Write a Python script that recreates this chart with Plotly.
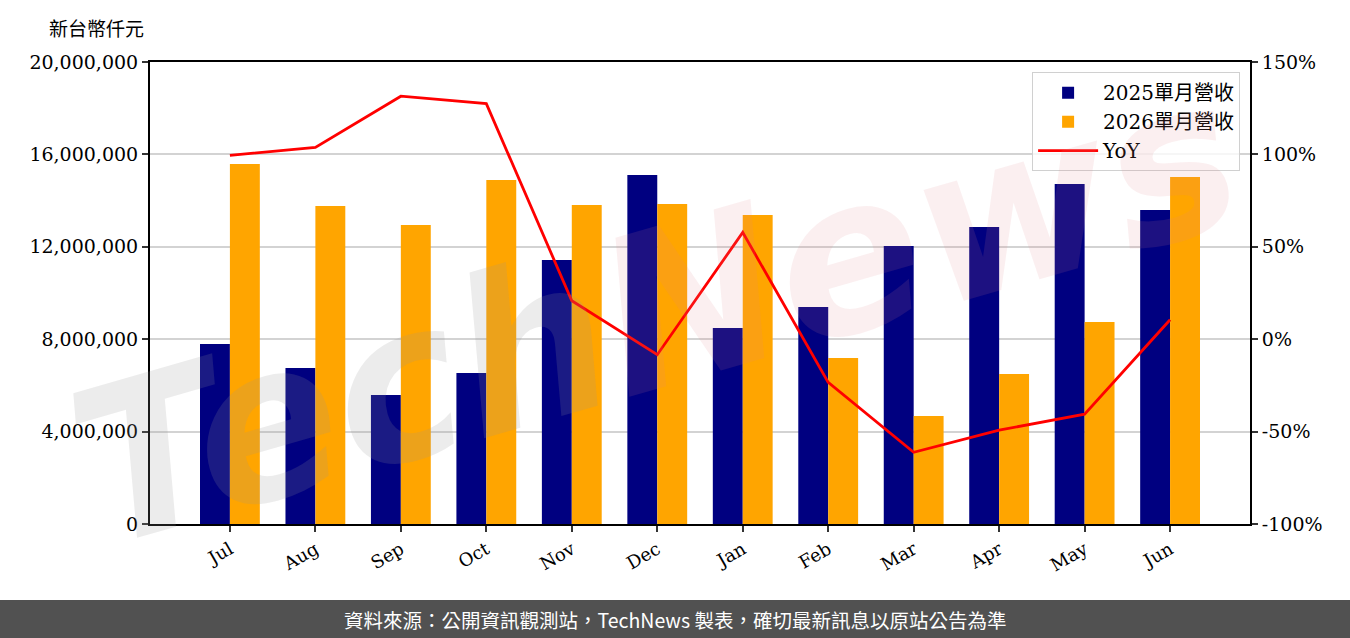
import plotly.graph_objects as go

months = ["Jul", "Aug", "Sep", "Oct", "Nov", "Dec", "Jan", "Feb", "Mar", "Apr", "May", "Jun"]
rev_2025 = [7790000, 6750000, 5580000, 6540000, 11430000, 15110000, 8480000, 9390000, 12030000, 12860000, 14720000, 13590000]
rev_2026 = [15580000, 13770000, 12940000, 14890000, 13810000, 13850000, 13380000, 7190000, 4680000, 6490000, 8740000, 15020000]
yoy = [99.5, 103.8, 131.5, 127.5, 20.8, -8.4, 57.8, -23.4, -61.2, -49.2, -40.6, 10.5]
left_ticks = [0, 4000000, 8000000, 12000000, 16000000, 20000000]
right_ticks = [-100, -50, 0, 50, 100, 150]
right_labels = ["-100%", "-50%", "0%", "50%", "100%", "150%"]

serif = "DejaVu Serif, Noto Sans CJK TC"
cjk = "Noto Sans CJK TC"

fig = go.Figure()
fig.add_trace(go.Bar(x=months, y=rev_2025, name="2025單月營收", marker_color="#000080",
                     marker_line_width=0))
fig.add_trace(go.Bar(x=months, y=rev_2026, name="2026單月營收", marker_color="#FFA500",
                     marker_line_width=0))
fig.add_trace(go.Scatter(x=months, y=yoy, name="YoY", mode="lines", yaxis="y2",
                         line=dict(color="#FF0000", width=2.8)))

fig.update_layout(
    width=1350, height=638,
    margin=dict(l=150, r=100, t=62, b=114),
    paper_bgcolor="white", plot_bgcolor="white",
    barmode="group", bargap=0.3, bargroupgap=0,
    font=dict(family=serif, size=19, color="black"),
    showlegend=True,
    legend=dict(x=0.991, xanchor="right", y=0.978, yanchor="top",
                bgcolor="rgba(255,255,255,0.8)", bordercolor="#d0d0d0", borderwidth=1,
                font=dict(family=serif, size=20), tracegroupgap=2, itemwidth=60),
    xaxis=dict(range=[-0.935, 11.935], showgrid=False, showline=True, linecolor="black",
               linewidth=2, mirror=True, ticks="outside", ticklen=6, tickwidth=2,
               tickcolor="#333", tickangle=-30, tickfont=dict(family=serif, size=18)),
    yaxis=dict(range=[0, 20000000], tickvals=left_ticks,
               tickformat=",d", showgrid=True, gridcolor="#d3d3d3", gridwidth=1.5,
               zeroline=False, showline=True, linecolor="black", linewidth=2,
               ticks="outside", ticklen=6, tickwidth=2, tickcolor="#333",
               tickfont=dict(family=serif, size=19)),
    yaxis2=dict(range=[-100, 150], tickmode="array", tickvals=right_ticks, ticktext=right_labels,
                overlaying="y", side="right", showgrid=False, zeroline=False,
                showline=True, linecolor="black", linewidth=2,
                ticks="outside", ticklen=6, tickwidth=2, tickcolor="#333",
                tickfont=dict(family=serif, size=19)),
)

# unit label
fig.add_annotation(text="新台幣仟元", xref="paper", yref="paper", x=(96 - 150) / 1100,
                   y=(524 - 27) / 462, xanchor="center", yanchor="middle", showarrow=False,
                   font=dict(family=cjk, size=19, color="black"))

# watermark
fig.add_annotation(
    text="<span style='color:rgba(150,150,150,0.18)'>Tech</span>"
         "<span style='color:rgba(225,130,140,0.13)'>News</span>",
    xref="paper", yref="paper", x=0.46, y=0.46, showarrow=False, textangle=-16,
    font=dict(family="DejaVu Sans", size=215, weight="bold", style="italic"))

# footer bar
fig.add_shape(type="rect", xref="paper", yref="paper", x0=-150/1100, x1=1250/1100,
              y0=-114/462, y1=-76/462, fillcolor="#515151", line_width=0, layer="above")
fig.add_annotation(text="資料來源：公開資訊觀測站，TechNews 製表，確切最新訊息以原站公告為準",
                   xref="paper", yref="paper", x=(675-150)/1100, y=-95/462,
                   xanchor="center", yanchor="middle", showarrow=False,
                   font=dict(family=cjk, size=19.5, color="white"))

fig.write_html("out.html")
